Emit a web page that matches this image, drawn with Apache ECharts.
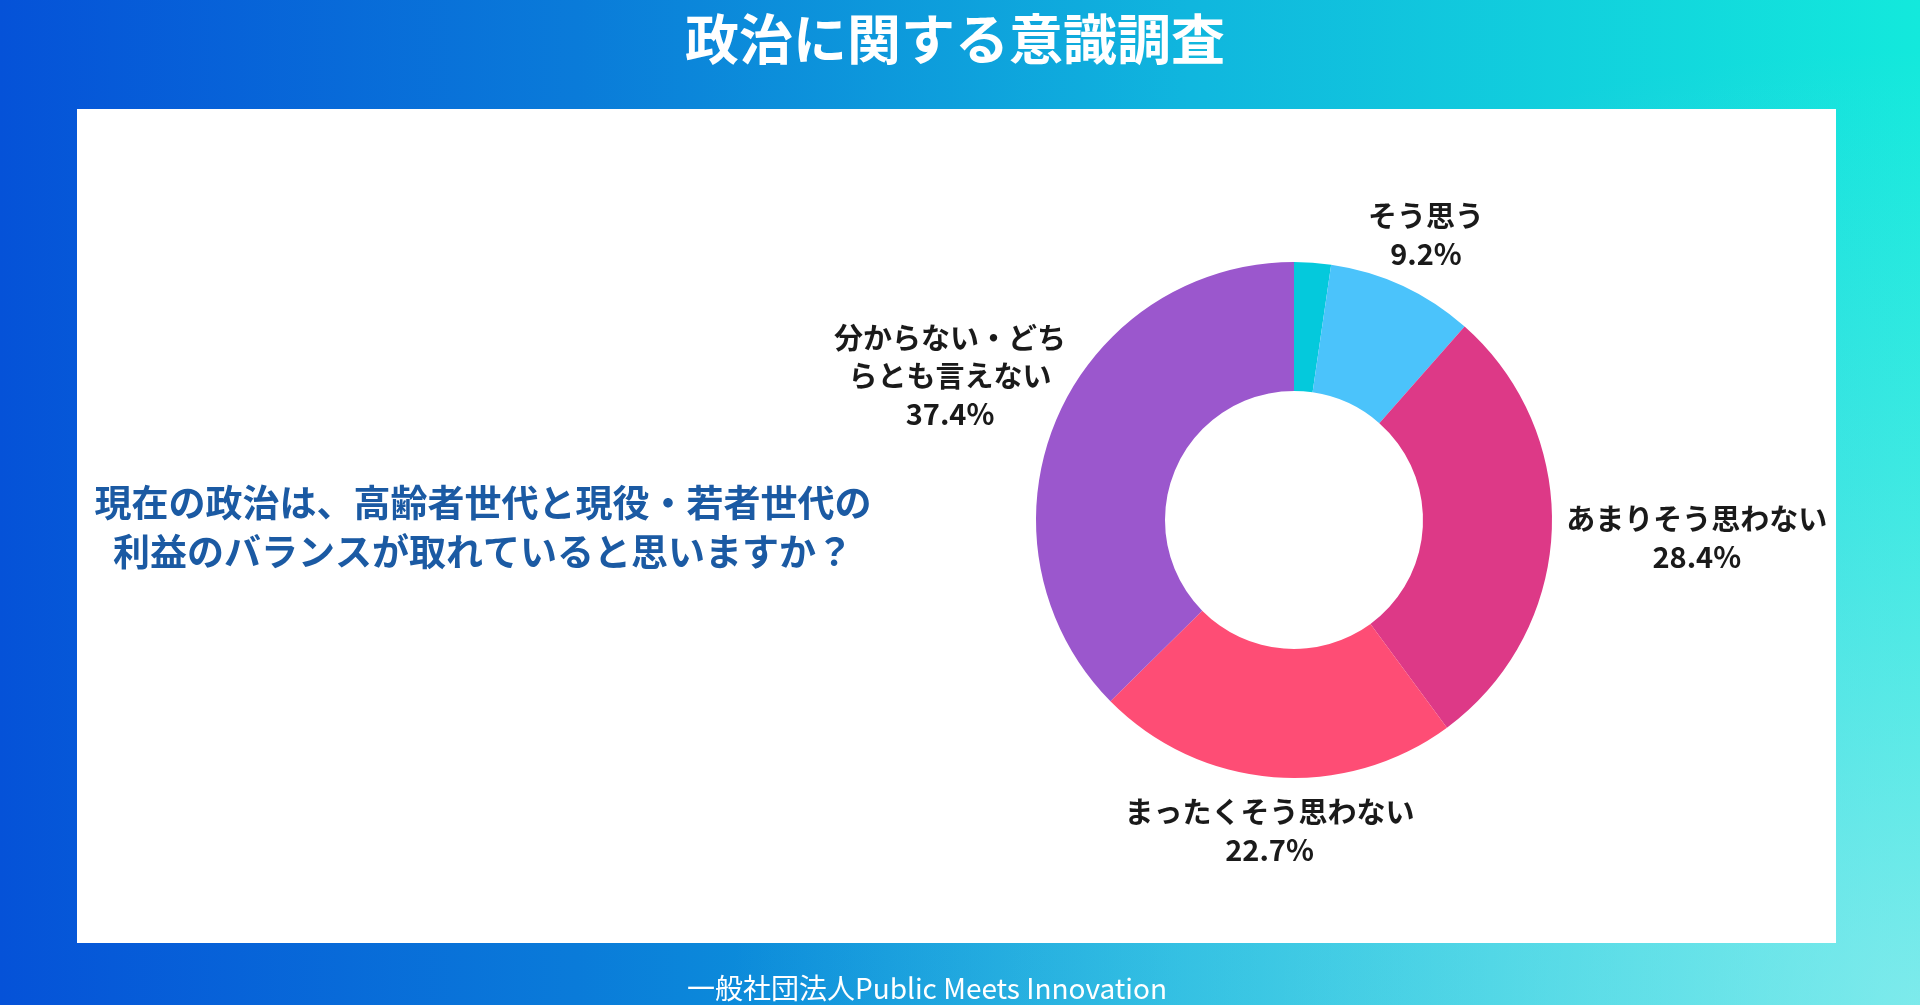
<!DOCTYPE html>
<html>
<head>
<meta charset="utf-8">
<script src="https://cdn.jsdelivr.net/npm/echarts@6/dist/echarts.min.js"></script>
<style>
html,body{margin:0;padding:0;width:1920px;height:1005px;overflow:hidden;}
#main{width:1920px;height:1005px;
background:
 radial-gradient(ellipse 62% 95% at 100% 100%, rgba(190,235,245,0.62) 0%, rgba(190,235,245,0.25) 55%, rgba(190,235,245,0) 100%),
 linear-gradient(90deg, #0552d8 0%, #0a7bd9 30%, #10b6de 62%, #13e9dc 100%);}
</style>
</head>
<body>
<div id="main"></div>
<script>
const titleText = '政治に関する意識調査';
const questionText = '現在の政治は、高齢者世代と現役・若者世代の\n利益のバランスが取れていると思いますか？';
const footerText = '一般社団法人Public Meets Innovation';
const categories = ['とてもそう思う', 'そう思う', 'あまりそう思わない', 'まったくそう思わない', '分からない・どちらとも言えない'];
const values = [2.3, 9.2, 28.4, 22.7, 37.4];
const colors = ['#04c9dc', '#4bc3fb', '#dd3987', '#fe4d75', '#9b57cd'];

const chart = echarts.init(document.getElementById('main'), null, {renderer: 'canvas'});
const FONT = '"Noto Sans CJK JP", "Noto Sans", sans-serif';
const CX = 1294, CY = 520, R_IN = 129, R_OUT = 258, GAP = 16;
const total = values.reduce((a, b) => a + b, 0);

const pieData = categories.map((name, i) => {
  const item = {name: name, value: values[i], itemStyle: {color: colors[i]}};
  if (i === 0) item.label = {show: false};
  if (name.length > 10) item.label = {width: 245, overflow: 'break'};
  return item;
});

chart.setOption({
  backgroundColor: 'transparent',
  animation: false,
  title: {
    text: titleText,
    left: 950, top: 34, textAlign: 'center', textVerticalAlign: 'middle',
    textStyle: {color: '#ffffff', fontSize: 54, fontWeight: 'bold', fontFamily: FONT}
  },
  graphic: [
    {type: 'rect', z: 0, shape: {x: 77, y: 109, width: 1759, height: 834}, style: {fill: '#ffffff'}},
    {type: 'text', z: 5, x: 483, y: 527, style: {text: questionText, fill: '#1b5aa3', font: 'bold 37px ' + FONT, lineHeight: 49, align: 'center', verticalAlign: 'middle'}},
    {type: 'text', z: 5, x: 927, y: 988, style: {text: footerText, fill: '#ffffff', font: '28px ' + FONT, align: 'center', verticalAlign: 'middle'}}
  ],
  series: [{
    type: 'pie',
    center: [CX, CY],
    radius: [R_IN, R_OUT],
    startAngle: 90,
    clockwise: true,
    avoidLabelOverlap: false,
    silent: true,
    label: {
      show: true,
      position: 'outside',
      color: '#1a1a1a',
      fontSize: 29,
      fontWeight: 'bold',
      fontFamily: FONT,
      lineHeight: 38,
      align: 'center',
      formatter: p => p.name + '\n' + p.value.toFixed(1) + '%'
    },
    labelLine: {show: false},
    labelLayout: function (p) {
      const i = p.dataIndex;
      let cum = 0;
      for (let k = 0; k < i; k++) cum += values[k];
      const mid = (90 - 360 * (cum + values[i] / 2) / total) * Math.PI / 180;
      const dx = Math.cos(mid), dy = -Math.sin(mid);
      const hw = p.labelRect.width / 2, hh = p.labelRect.height / 2;
      const t = 1 / Math.sqrt(Math.pow(dx / hw, 2) + Math.pow(dy / hh, 2));
      const d = R_OUT + GAP + t;
      return {x: CX + dx * d, y: CY + dy * d, align: 'center', verticalAlign: 'middle'};
    },
    data: pieData
  }]
});
</script>
</body>
</html>
